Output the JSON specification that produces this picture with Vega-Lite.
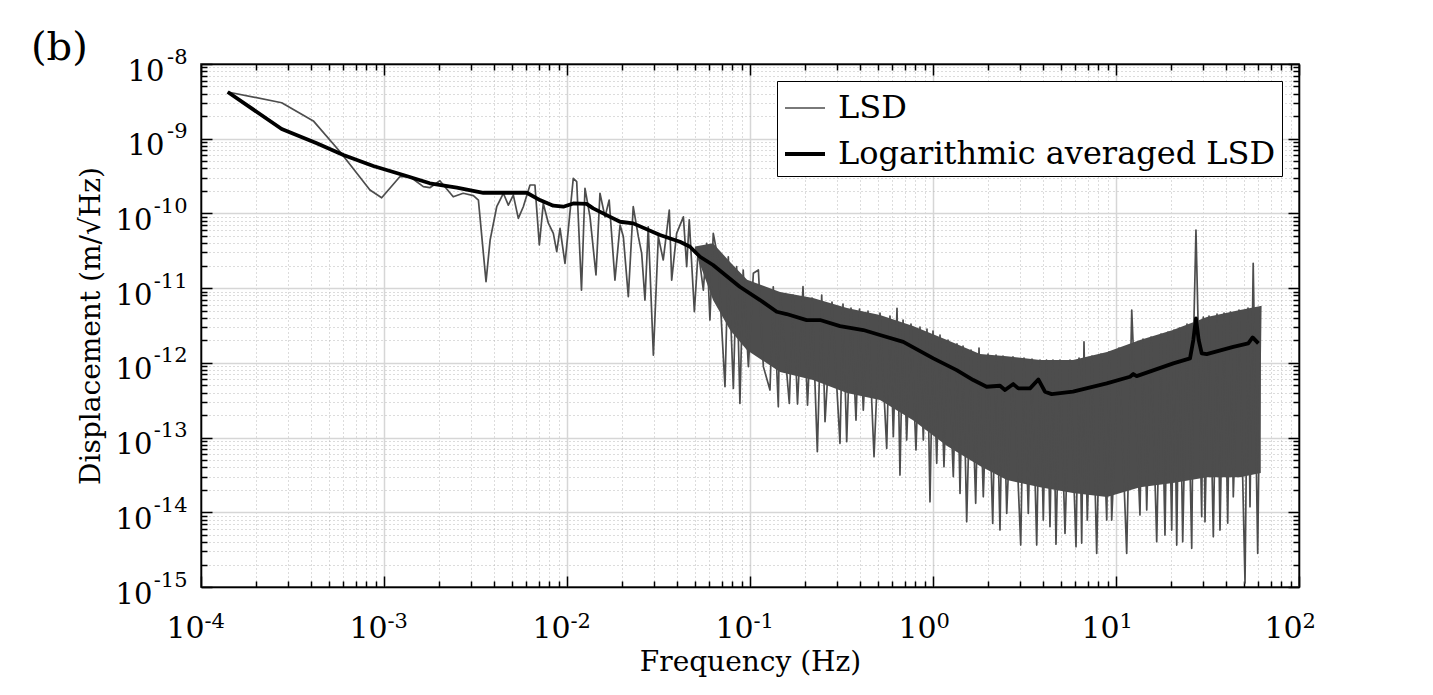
{
  "$schema": "https://vega.github.io/schema/vega-lite/v6.json",
  "width": 1098,
  "height": 523,
  "autosize": {"type": "none"},
  "padding": {"left": 201, "top": 64, "right": 134, "bottom": 108},
  "background": "white",
  "config": {"view": {"stroke": "black", "strokeWidth": 1.5}, "font": "DejaVu Serif"},
  "title": {"text": "(b)", "anchor": "start", "frame": "group", "fontSize": 40, "fontWeight": "normal", "font": "DejaVu Serif", "color": "black", "dx": -170, "offset": 0, "baseline": "top", "dy": 22},
  "datasets": {
    "band": [
      {"f": 0.05, "hi": 3.6e-11, "lo": 3.2e-11},
      {"f": 0.0628, "hi": 4.0e-11, "lo": 6.93e-12},
      {"f": 0.0778, "hi": 2.23e-11, "lo": 2.75e-12},
      {"f": 0.0964, "hi": 1.3e-11, "lo": 1.48e-12},
      {"f": 0.146, "hi": 8.87e-12, "lo": 7.53e-13},
      {"f": 0.221, "hi": 7.37e-12, "lo": 5.89e-13},
      {"f": 0.339, "hi": 5.42e-12, "lo": 3.94e-13},
      {"f": 0.513, "hi": 4.37e-12, "lo": 3.18e-13},
      {"f": 0.778, "hi": 3.11e-12, "lo": 1.71e-13},
      {"f": 1.194, "hi": 2.02e-12, "lo": 7.69e-14},
      {"f": 1.807, "hi": 1.31e-12, "lo": 4.15e-14},
      {"f": 2.535, "hi": 1.23e-12, "lo": 2.7e-14},
      {"f": 3.846, "hi": 1.09e-12, "lo": 2.17e-14},
      {"f": 5.82, "hi": 1.09e-12, "lo": 1.81e-14},
      {"f": 8.93, "hi": 1.4e-12, "lo": 1.6e-14},
      {"f": 13.52, "hi": 2.02e-12, "lo": 2.17e-14},
      {"f": 20.47, "hi": 2.75e-12, "lo": 2.46e-14},
      {"f": 31.4, "hi": 4.1e-12, "lo": 2.95e-14},
      {"f": 47.6, "hi": 5.09e-12, "lo": 2.95e-14},
      {"f": 61.8, "hi": 5.75e-12, "lo": 3.35e-14}
    ],
    "lines": [
      {"s": "LSD", "f": 1.40e-4, "v": 4.22e-9},
      {"s": "LSD", "f": 2.76e-4, "v": 3.03e-9},
      {"s": "LSD", "f": 4.11e-4, "v": 1.73e-9},
      {"s": "LSD", "f": 5.75e-4, "v": 6.7e-10},
      {"s": "LSD", "f": 8.38e-4, "v": 2.06e-10},
      {"s": "LSD", "f": 9.71e-4, "v": 1.62e-10},
      {"s": "LSD", "f": 1.22e-3, "v": 3.10e-10},
      {"s": "LSD", "f": 1.387e-3, "v": 3.10e-10},
      {"s": "LSD", "f": 1.64e-3, "v": 2.28e-10},
      {"s": "LSD", "f": 1.78e-3, "v": 2.21e-10},
      {"s": "LSD", "f": 2.02e-3, "v": 2.74e-10},
      {"s": "LSD", "f": 2.15e-3, "v": 2.28e-10},
      {"s": "LSD", "f": 2.39e-3, "v": 1.67e-10},
      {"s": "LSD", "f": 2.71e-3, "v": 1.86e-10},
      {"s": "LSD", "f": 3.08e-3, "v": 1.73e-10},
      {"s": "LSD", "f": 3.28e-3, "v": 1.51e-10},
      {"s": "LSD", "f": 3.61e-3, "v": 1.22e-11},
      {"s": "LSD", "f": 3.80e-3, "v": 4.4e-11},
      {"s": "LSD", "f": 4.13e-3, "v": 1.23e-10},
      {"s": "LSD", "f": 4.49e-3, "v": 1.86e-10},
      {"s": "LSD", "f": 4.78e-3, "v": 1.29e-10},
      {"s": "LSD", "f": 5.09e-3, "v": 1.76e-10},
      {"s": "LSD", "f": 5.42e-3, "v": 8.6e-11},
      {"s": "LSD", "f": 5.77e-3, "v": 1.23e-10},
      {"s": "LSD", "f": 6.28e-3, "v": 2.40e-10},
      {"s": "LSD", "f": 6.68e-3, "v": 2.40e-10},
      {"s": "LSD", "f": 7.06e-3, "v": 3.78e-11},
      {"s": "LSD", "f": 7.42e-3, "v": 1.36e-10},
      {"s": "LSD", "f": 7.91e-3, "v": 7.4e-11},
      {"s": "LSD", "f": 8.42e-3, "v": 5.42e-11},
      {"s": "LSD", "f": 8.79e-3, "v": 3.08e-11},
      {"s": "LSD", "f": 9.16e-3, "v": 6.3e-11},
      {"s": "LSD", "f": 9.75e-3, "v": 2.15e-11},
      {"s": "LSD", "f": 1.016e-2, "v": 6.0e-11},
      {"s": "LSD", "f": 1.082e-2, "v": 2.94e-10},
      {"s": "LSD", "f": 1.13e-2, "v": 2.66e-10},
      {"s": "LSD", "f": 1.20e-2, "v": 9.4e-12},
      {"s": "LSD", "f": 1.254e-2, "v": 2.17e-10},
      {"s": "LSD", "f": 1.336e-2, "v": 9.0e-11},
      {"s": "LSD", "f": 1.44e-2, "v": 1.50e-11},
      {"s": "LSD", "f": 1.514e-2, "v": 1.86e-10},
      {"s": "LSD", "f": 1.613e-2, "v": 9.0e-11},
      {"s": "LSD", "f": 1.70e-2, "v": 1.51e-10},
      {"s": "LSD", "f": 0.01828, "v": 1.28e-11},
      {"s": "LSD", "f": 0.0195, "v": 7.0e-11},
      {"s": "LSD", "f": 0.02032, "v": 4.88e-11},
      {"s": "LSD", "f": 0.02163, "v": 7.7e-12},
      {"s": "LSD", "f": 0.02301, "v": 1.23e-10},
      {"s": "LSD", "f": 0.02455, "v": 4.88e-11},
      {"s": "LSD", "f": 0.02559, "v": 2.92e-11},
      {"s": "LSD", "f": 0.02667, "v": 6.9e-12},
      {"s": "LSD", "f": 0.0278, "v": 6.6e-11},
      {"s": "LSD", "f": 0.02965, "v": 1.27e-12},
      {"s": "LSD", "f": 0.03155, "v": 4.88e-11},
      {"s": "LSD", "f": 0.03357, "v": 2.38e-11},
      {"s": "LSD", "f": 0.03622, "v": 1.11e-10},
      {"s": "LSD", "f": 0.03733, "v": 1.28e-11},
      {"s": "LSD", "f": 0.03973, "v": 5.42e-11},
      {"s": "LSD", "f": 0.04325, "v": 9.0e-11},
      {"s": "LSD", "f": 0.04508, "v": 1.94e-11},
      {"s": "LSD", "f": 0.04656, "v": 8.2e-11},
      {"s": "LSD", "f": 0.04966, "v": 4.83e-12},
      {"s": "LSD", "f": 0.05212, "v": 3.24e-11},
      {"s": "LSD", "f": 0.05559, "v": 9.4e-12},
      {"s": "LSD", "f": 0.05798, "v": 3.98e-11},
      {"s": "LSD", "f": 0.0604, "v": 3.74e-12},
      {"s": "LSD", "f": 0.0630, "v": 5.42e-11},
      {"s": "LSD", "f": 0.0671, "v": 2.38e-11},
      {"s": "LSD", "f": 0.0700, "v": 3.04e-12},
      {"s": "LSD", "f": 0.0730, "v": 4.79e-13},
      {"s": "LSD", "f": 0.0761, "v": 2.63e-11},
      {"s": "LSD", "f": 0.0811, "v": 4.55e-13},
      {"s": "LSD", "f": 0.0845, "v": 1.94e-11},
      {"s": "LSD", "f": 0.0881, "v": 2.87e-13},
      {"s": "LSD", "f": 0.0918, "v": 1.75e-11},
      {"s": "LSD", "f": 0.098, "v": 8.9e-13},
      {"s": "LSD", "f": 0.1043, "v": 1.58e-11},
      {"s": "LSD", "f": 0.1111, "v": 1.75e-11},
      {"s": "LSD", "f": 0.1183, "v": 8.9e-13},
      {"s": "LSD", "f": 0.1286, "v": 4.33e-13},
      {"s": "LSD", "f": 0.134, "v": 1.04e-11},
      {"s": "LSD", "f": 0.1428, "v": 2.58e-13},
      {"s": "LSD", "f": 0.146, "v": 8.5e-12},
      {"s": "LSD", "f": 0.164, "v": 2.87e-13},
      {"s": "LSD", "f": 0.1718, "v": 8.09e-12},
      {"s": "LSD", "f": 0.1818, "v": 2.81e-13},
      {"s": "LSD", "f": 0.1948, "v": 1.045e-11},
      {"s": "LSD", "f": 0.2062, "v": 2.72e-13},
      {"s": "LSD", "f": 0.2183, "v": 7.36e-12},
      {"s": "LSD", "f": 0.2333, "v": 6.46e-14},
      {"s": "LSD", "f": 0.2465, "v": 8.09e-12},
      {"s": "LSD", "f": 0.257, "v": 1.63e-13},
      {"s": "LSD", "f": 0.2806, "v": 6.52e-12},
      {"s": "LSD", "f": 0.3103, "v": 8.36e-14},
      {"s": "LSD", "f": 0.3222, "v": 6.12e-12},
      {"s": "LSD", "f": 0.3376, "v": 8.79e-14},
      {"s": "LSD", "f": 0.3564, "v": 5.42e-12},
      {"s": "LSD", "f": 0.3795, "v": 1.71e-13},
      {"s": "LSD", "f": 0.3966, "v": 5.25e-12},
      {"s": "LSD", "f": 0.416, "v": 2.33e-13},
      {"s": "LSD", "f": 0.4414, "v": 4.93e-12},
      {"s": "LSD", "f": 0.4761, "v": 5.53e-14},
      {"s": "LSD", "f": 0.5133, "v": 4.65e-12},
      {"s": "LSD", "f": 0.5585, "v": 7.16e-14},
      {"s": "LSD", "f": 0.582, "v": 4.24e-12},
      {"s": "LSD", "f": 0.607, "v": 1.03e-13},
      {"s": "LSD", "f": 0.6358, "v": 5.37e-12},
      {"s": "LSD", "f": 0.660, "v": 3.15e-14},
      {"s": "LSD", "f": 0.686, "v": 3.74e-12},
      {"s": "LSD", "f": 0.718, "v": 9.27e-14},
      {"s": "LSD", "f": 0.758, "v": 3.30e-12},
      {"s": "LSD", "f": 0.807, "v": 6.81e-14},
      {"s": "LSD", "f": 0.849, "v": 3.01e-12},
      {"s": "LSD", "f": 0.885, "v": 9.27e-14},
      {"s": "LSD", "f": 0.927, "v": 2.83e-12},
      {"s": "LSD", "f": 0.963, "v": 1.38e-14},
      {"s": "LSD", "f": 1.0, "v": 2.67e-12},
      {"s": "LSD", "f": 1.048, "v": 4.52e-14},
      {"s": "LSD", "f": 1.092, "v": 2.36e-12},
      {"s": "LSD", "f": 1.148, "v": 4.06e-14},
      {"s": "LSD", "f": 1.208, "v": 2.02e-12},
      {"s": "LSD", "f": 1.291, "v": 2.99e-14},
      {"s": "LSD", "f": 1.352, "v": 1.79e-12},
      {"s": "LSD", "f": 1.405, "v": 1.79e-14},
      {"s": "LSD", "f": 1.459, "v": 1.68e-12},
      {"s": "LSD", "f": 1.528, "v": 7.46e-15},
      {"s": "LSD", "f": 1.613, "v": 1.48e-12},
      {"s": "LSD", "f": 1.711, "v": 1.32e-14},
      {"s": "LSD", "f": 1.784, "v": 1.58e-12},
      {"s": "LSD", "f": 1.883, "v": 1.61e-14},
      {"s": "LSD", "f": 1.998, "v": 1.31e-12},
      {"s": "LSD", "f": 2.12, "v": 7.1e-15},
      {"s": "LSD", "f": 2.21, "v": 1.27e-12},
      {"s": "LSD", "f": 2.323, "v": 5.78e-15},
      {"s": "LSD", "f": 2.413, "v": 1.23e-12},
      {"s": "LSD", "f": 2.528, "v": 9.66e-15},
      {"s": "LSD", "f": 2.736, "v": 1.2e-12},
      {"s": "LSD", "f": 3.015, "v": 3.64e-15},
      {"s": "LSD", "f": 3.143, "v": 1.16e-12},
      {"s": "LSD", "f": 3.317, "v": 9.66e-15},
      {"s": "LSD", "f": 3.475, "v": 1.12e-12},
      {"s": "LSD", "f": 3.687, "v": 3.64e-15},
      {"s": "LSD", "f": 3.844, "v": 1.09e-12},
      {"s": "LSD", "f": 4.006, "v": 7.87e-15},
      {"s": "LSD", "f": 4.171, "v": 1.09e-12},
      {"s": "LSD", "f": 4.358, "v": 6.4e-15},
      {"s": "LSD", "f": 4.525, "v": 1.09e-12},
      {"s": "LSD", "f": 4.7, "v": 3.75e-15},
      {"s": "LSD", "f": 4.943, "v": 1.09e-12},
      {"s": "LSD", "f": 5.264, "v": 5.22e-15},
      {"s": "LSD", "f": 5.606, "v": 1.09e-12},
      {"s": "LSD", "f": 6.045, "v": 3.45e-15},
      {"s": "LSD", "f": 6.28, "v": 1.16e-12},
      {"s": "LSD", "f": 6.495, "v": 3.87e-15},
      {"s": "LSD", "f": 6.685, "v": 1.91e-12},
      {"s": "LSD", "f": 6.969, "v": 7.87e-15},
      {"s": "LSD", "f": 7.393, "v": 1.23e-12},
      {"s": "LSD", "f": 7.843, "v": 2.82e-15},
      {"s": "LSD", "f": 8.28, "v": 1.31e-12},
      {"s": "LSD", "f": 8.9, "v": 7.87e-15},
      {"s": "LSD", "f": 9.16, "v": 1.4e-12},
      {"s": "LSD", "f": 9.475, "v": 7.87e-15},
      {"s": "LSD", "f": 10.38, "v": 1.58e-12},
      {"s": "LSD", "f": 11.44, "v": 2.82e-15},
      {"s": "LSD", "f": 12.19, "v": 5.09e-12},
      {"s": "LSD", "f": 13.52, "v": 9.18e-15},
      {"s": "LSD", "f": 14.05, "v": 2.08e-12},
      {"s": "LSD", "f": 14.72, "v": 1.07e-14},
      {"s": "LSD", "f": 15.54, "v": 2.21e-12},
      {"s": "LSD", "f": 16.69, "v": 4.03e-15},
      {"s": "LSD", "f": 17.62, "v": 2.43e-12},
      {"s": "LSD", "f": 18.52, "v": 4.95e-15},
      {"s": "LSD", "f": 19.24, "v": 2.58e-12},
      {"s": "LSD", "f": 20.16, "v": 5.78e-15},
      {"s": "LSD", "f": 20.75, "v": 2.75e-12},
      {"s": "LSD", "f": 21.47, "v": 3.64e-15},
      {"s": "LSD", "f": 22.23, "v": 2.92e-12},
      {"s": "LSD", "f": 23.15, "v": 4.03e-15},
      {"s": "LSD", "f": 24.43, "v": 3.3e-12},
      {"s": "LSD", "f": 25.93, "v": 3.29e-15},
      {"s": "LSD", "f": 26.69, "v": 3.98e-12},
      {"s": "LSD", "f": 27.35, "v": 6.0e-11},
      {"s": "LSD", "f": 28.05, "v": 3.98e-12},
      {"s": "LSD", "f": 29.4, "v": 8.71e-15},
      {"s": "LSD", "f": 30.0, "v": 4.1e-12},
      {"s": "LSD", "f": 30.64, "v": 7.46e-15},
      {"s": "LSD", "f": 32.23, "v": 4.24e-12},
      {"s": "LSD", "f": 34.02, "v": 4.7e-15},
      {"s": "LSD", "f": 35.64, "v": 4.5e-12},
      {"s": "LSD", "f": 37.01, "v": 5.78e-15},
      {"s": "LSD", "f": 38.93, "v": 4.65e-12},
      {"s": "LSD", "f": 40.78, "v": 7.16e-15},
      {"s": "LSD", "f": 42.25, "v": 4.79e-12},
      {"s": "LSD", "f": 43.75, "v": 1.61e-14},
      {"s": "LSD", "f": 47.0, "v": 5.09e-12},
      {"s": "LSD", "f": 50.7, "v": 1.13e-15},
      {"s": "LSD", "f": 52.64, "v": 5.42e-12},
      {"s": "LSD", "f": 53.98, "v": 1.19e-14},
      {"s": "LSD", "f": 56.2, "v": 2.15e-11},
      {"s": "LSD", "f": 59.47, "v": 2.82e-15},
      {"s": "LSD", "f": 61.8, "v": 5.75e-12},
      {"s": "Logarithmic averaged LSD", "f": 1.40e-4, "v": 4.22e-9},
      {"s": "Logarithmic averaged LSD", "f": 2.76e-4, "v": 1.35e-9},
      {"s": "Logarithmic averaged LSD", "f": 4.29e-4, "v": 8.67e-10},
      {"s": "Logarithmic averaged LSD", "f": 6.0e-4, "v": 6.05e-10},
      {"s": "Logarithmic averaged LSD", "f": 8.74e-4, "v": 4.32e-10},
      {"s": "Logarithmic averaged LSD", "f": 1.274e-3, "v": 3.27e-10},
      {"s": "Logarithmic averaged LSD", "f": 1.78e-3, "v": 2.53e-10},
      {"s": "Logarithmic averaged LSD", "f": 2.5e-3, "v": 2.21e-10},
      {"s": "Logarithmic averaged LSD", "f": 3.49e-3, "v": 1.89e-10},
      {"s": "Logarithmic averaged LSD", "f": 6.03e-3, "v": 1.89e-10},
      {"s": "Logarithmic averaged LSD", "f": 7.11e-3, "v": 1.51e-10},
      {"s": "Logarithmic averaged LSD", "f": 8.42e-3, "v": 1.27e-10},
      {"s": "Logarithmic averaged LSD", "f": 9.55e-3, "v": 1.23e-10},
      {"s": "Logarithmic averaged LSD", "f": 1.082e-2, "v": 1.36e-10},
      {"s": "Logarithmic averaged LSD", "f": 1.28e-2, "v": 1.34e-10},
      {"s": "Logarithmic averaged LSD", "f": 1.39e-2, "v": 1.17e-10},
      {"s": "Logarithmic averaged LSD", "f": 1.72e-2, "v": 9.0e-11},
      {"s": "Logarithmic averaged LSD", "f": 1.95e-2, "v": 7.74e-11},
      {"s": "Logarithmic averaged LSD", "f": 2.30e-2, "v": 7.36e-11},
      {"s": "Logarithmic averaged LSD", "f": 3.22e-2, "v": 5.14e-11},
      {"s": "Logarithmic averaged LSD", "f": 4.14e-2, "v": 4.18e-11},
      {"s": "Logarithmic averaged LSD", "f": 4.70e-2, "v": 3.58e-11},
      {"s": "Logarithmic averaged LSD", "f": 5.33e-2, "v": 2.63e-11},
      {"s": "Logarithmic averaged LSD", "f": 6.28e-2, "v": 2.04e-11},
      {"s": "Logarithmic averaged LSD", "f": 8.79e-2, "v": 1.045e-11},
      {"s": "Logarithmic averaged LSD", "f": 0.1135, "v": 6.93e-12},
      {"s": "Logarithmic averaged LSD", "f": 0.14, "v": 4.83e-12},
      {"s": "Logarithmic averaged LSD", "f": 0.1585, "v": 4.5e-12},
      {"s": "Logarithmic averaged LSD", "f": 0.204, "v": 3.74e-12},
      {"s": "Logarithmic averaged LSD", "f": 0.2415, "v": 3.74e-12},
      {"s": "Logarithmic averaged LSD", "f": 0.3104, "v": 3.1e-12},
      {"s": "Logarithmic averaged LSD", "f": 0.416, "v": 2.75e-12},
      {"s": "Logarithmic averaged LSD", "f": 0.513, "v": 2.36e-12},
      {"s": "Logarithmic averaged LSD", "f": 0.688, "v": 1.91e-12},
      {"s": "Logarithmic averaged LSD", "f": 0.78, "v": 1.61e-12},
      {"s": "Logarithmic averaged LSD", "f": 1.004, "v": 1.15e-12},
      {"s": "Logarithmic averaged LSD", "f": 1.347, "v": 8.0e-13},
      {"s": "Logarithmic averaged LSD", "f": 1.66, "v": 5.89e-13},
      {"s": "Logarithmic averaged LSD", "f": 1.963, "v": 4.79e-13},
      {"s": "Logarithmic averaged LSD", "f": 2.323, "v": 4.94e-13},
      {"s": "Logarithmic averaged LSD", "f": 2.474, "v": 4.33e-13},
      {"s": "Logarithmic averaged LSD", "f": 2.747, "v": 5.2e-13},
      {"s": "Logarithmic averaged LSD", "f": 2.925, "v": 4.55e-13},
      {"s": "Logarithmic averaged LSD", "f": 3.39, "v": 4.55e-13},
      {"s": "Logarithmic averaged LSD", "f": 3.763, "v": 6.0e-13},
      {"s": "Logarithmic averaged LSD", "f": 4.09, "v": 4.11e-13},
      {"s": "Logarithmic averaged LSD", "f": 4.454, "v": 3.82e-13},
      {"s": "Logarithmic averaged LSD", "f": 5.82, "v": 4.11e-13},
      {"s": "Logarithmic averaged LSD", "f": 8.9, "v": 5.31e-13},
      {"s": "Logarithmic averaged LSD", "f": 11.93, "v": 6.52e-13},
      {"s": "Logarithmic averaged LSD", "f": 12.43, "v": 7.08e-13},
      {"s": "Logarithmic averaged LSD", "f": 12.97, "v": 6.65e-13},
      {"s": "Logarithmic averaged LSD", "f": 20.56, "v": 9.84e-13},
      {"s": "Logarithmic averaged LSD", "f": 25.38, "v": 1.15e-12},
      {"s": "Logarithmic averaged LSD", "f": 26.45, "v": 2.02e-12},
      {"s": "Logarithmic averaged LSD", "f": 27.35, "v": 3.94e-12},
      {"s": "Logarithmic averaged LSD", "f": 28.3, "v": 2.02e-12},
      {"s": "Logarithmic averaged LSD", "f": 29.4, "v": 1.34e-12},
      {"s": "Logarithmic averaged LSD", "f": 31.3, "v": 1.31e-12},
      {"s": "Logarithmic averaged LSD", "f": 43.75, "v": 1.64e-12},
      {"s": "Logarithmic averaged LSD", "f": 52.8, "v": 1.82e-12},
      {"s": "Logarithmic averaged LSD", "f": 55.8, "v": 2.19e-12},
      {"s": "Logarithmic averaged LSD", "f": 60.0, "v": 1.82e-12}
    ]
  },
  "layer": [
    {
      "data": {"name": "band"},
      "mark": {"type": "area", "color": "#4d4d4d", "opacity": 1},
      "encoding": {
        "x": {"field": "f", "type": "quantitative",
          "scale": {"type": "log", "domain": [0.0001, 100], "nice": false},
          "axis": {"orient": "bottom",
            "values": [0.0001,0.0002,0.0003,0.0004,0.0005,0.0006,0.0007,0.0008,0.0009,0.001,0.002,0.003,0.004,0.005,0.006,0.007,0.008,0.009,0.01,0.02,0.03,0.04,0.05,0.06,0.07,0.08,0.09,0.1,0.2,0.3,0.4,0.5,0.6,0.7,0.8,0.9,1,2,3,4,5,6,7,8,9,10,20,30,40,50,60,70,80,90,100],
            "title": "Frequency (Hz)", "titleFont": "DejaVu Serif", "titleFontSize": 28, "titleFontWeight": "normal", "titleColor": "black", "titlePadding": 5,
            "ticks": false, "domain": false, "grid": true,
            "gridColor": {"condition": {"test": "abs(log(datum.value)/LN10 - round(log(datum.value)/LN10)) < 0.001", "value": "#d6d6d6"}, "value": "#b8b8b8"},
            "gridDash": {"condition": {"test": "abs(log(datum.value)/LN10 - round(log(datum.value)/LN10)) < 0.001", "value": []}, "value": [1, 3]},
            "gridWidth": {"condition": {"test": "abs(log(datum.value)/LN10 - round(log(datum.value)/LN10)) < 0.001", "value": 1.5}, "value": 1},
            "labelExpr": "abs(log(datum.value)/LN10 - round(log(datum.value)/LN10)) < 0.001 ? '10' : ''",
            "labelFont": "DejaVu Serif", "labelFontSize": 30, "labelColor": "black", "labelPadding": 26, "labelOffset": -16,
            "labelFlush": false, "labelOverlap": false, "labelBound": false}},
        "y": {"field": "hi", "type": "quantitative",
          "scale": {"type": "log", "domain": [1e-15, 1e-8], "nice": false},
          "axis": {"orient": "left",
            "values": [1e-15,2e-15,3e-15,4e-15,5e-15,6e-15,7e-15,8e-15,9e-15,1e-14,2e-14,3e-14,4e-14,5e-14,6e-14,7e-14,8e-14,9e-14,1e-13,2e-13,3e-13,4e-13,5e-13,6e-13,7e-13,8e-13,9e-13,1e-12,2e-12,3e-12,4e-12,5e-12,6e-12,7e-12,8e-12,9e-12,1e-11,2e-11,3e-11,4e-11,5e-11,6e-11,7e-11,8e-11,9e-11,1e-10,2e-10,3e-10,4e-10,5e-10,6e-10,7e-10,8e-10,9e-10,1e-9,2e-9,3e-9,4e-9,5e-9,6e-9,7e-9,8e-9,9e-9,1e-8],
            "title": "Displacement (m/√Hz)", "titleFont": "DejaVu Serif", "titleFontSize": 28, "titleFontWeight": "normal", "titleColor": "black", "titlePadding": 10,
            "ticks": false, "domain": false, "grid": true,
            "gridColor": {"condition": {"test": "abs(log(datum.value)/LN10 - round(log(datum.value)/LN10)) < 0.001", "value": "#d6d6d6"}, "value": "#b8b8b8"},
            "gridDash": {"condition": {"test": "abs(log(datum.value)/LN10 - round(log(datum.value)/LN10)) < 0.001", "value": []}, "value": [1, 3]},
            "gridWidth": {"condition": {"test": "abs(log(datum.value)/LN10 - round(log(datum.value)/LN10)) < 0.001", "value": 1.5}, "value": 1},
            "labelExpr": "abs(log(datum.value)/LN10 - round(log(datum.value)/LN10)) < 0.001 ? '10' : ''",
            "labelFont": "DejaVu Serif", "labelFontSize": 29, "labelColor": "black",
            "labelPadding": {"condition": {"test": "datum.value > 5e-10", "value": 37}, "value": 49},
            "labelOffset": 7, "labelFlush": false, "labelOverlap": false, "labelBound": false}},
        "y2": {"field": "lo"}
      }
    },
    {
      "data": {"name": "lines"},
      "mark": {"type": "line", "strokeJoin": "round"},
      "encoding": {
        "x": {"field": "f", "type": "quantitative",
          "scale": {"type": "log", "domain": [0.0001, 100], "nice": false},
          "axis": {"orient": "top",
            "values": [0.0001,0.0002,0.0003,0.0004,0.0005,0.0006,0.0007,0.0008,0.0009,0.001,0.002,0.003,0.004,0.005,0.006,0.007,0.008,0.009,0.01,0.02,0.03,0.04,0.05,0.06,0.07,0.08,0.09,0.1,0.2,0.3,0.4,0.5,0.6,0.7,0.8,0.9,1,2,3,4,5,6,7,8,9,10,20,30,40,50,60,70,80,90,100],
            "title": null, "labels": false, "grid": false, "domain": true, "domainColor": "black", "domainWidth": 1.5,
            "ticks": true, "tickColor": "black", "tickWidth": 1.5,
            "tickSize": {"condition": {"test": "abs(log(datum.value)/LN10 - round(log(datum.value)/LN10)) < 0.001", "value": -11}, "value": -6}}},
        "y": {"field": "v", "type": "quantitative",
          "scale": {"type": "log", "domain": [1e-15, 1e-8], "nice": false},
          "axis": {"orient": "right",
            "values": [1e-15,2e-15,3e-15,4e-15,5e-15,6e-15,7e-15,8e-15,9e-15,1e-14,2e-14,3e-14,4e-14,5e-14,6e-14,7e-14,8e-14,9e-14,1e-13,2e-13,3e-13,4e-13,5e-13,6e-13,7e-13,8e-13,9e-13,1e-12,2e-12,3e-12,4e-12,5e-12,6e-12,7e-12,8e-12,9e-12,1e-11,2e-11,3e-11,4e-11,5e-11,6e-11,7e-11,8e-11,9e-11,1e-10,2e-10,3e-10,4e-10,5e-10,6e-10,7e-10,8e-10,9e-10,1e-9,2e-9,3e-9,4e-9,5e-9,6e-9,7e-9,8e-9,9e-9,1e-8],
            "title": null, "labels": false, "grid": false, "domain": true, "domainColor": "black", "domainWidth": 1.5,
            "ticks": true, "tickColor": "black", "tickWidth": 1.5,
            "tickSize": {"condition": {"test": "abs(log(datum.value)/LN10 - round(log(datum.value)/LN10)) < 0.001", "value": -11}, "value": -6}}},
        "color": {"field": "s", "type": "nominal",
          "scale": {"domain": ["LSD", "Logarithmic averaged LSD"], "range": ["#4d4d4d", "#000000"]},
          "legend": {"title": null, "orient": "top-right", "offset": 17, "strokeColor": "black", "fillColor": "white", "padding": 6,
            "labelFont": "DejaVu Serif", "labelFontSize": 32, "labelColor": "black", "labelLimit": 0, "labelOffset": 11,
            "symbolType": "stroke", "symbolSize": 1600, "rowPadding": 8}},
        "strokeWidth": {"field": "s", "type": "nominal",
          "scale": {"domain": ["LSD", "Logarithmic averaged LSD"], "range": [1.7, 3.8]},
          "legend": {"title": null, "orient": "top-right", "offset": 17, "strokeColor": "black", "fillColor": "white", "padding": 6,
            "labelFont": "DejaVu Serif", "labelFontSize": 32, "labelColor": "black", "labelLimit": 0, "labelOffset": 11,
            "symbolType": "stroke", "symbolSize": 1600, "rowPadding": 8}}
      }
    },
    {
      "data": {"name": "band"},
      "mark": {"type": "point", "opacity": 0},
      "encoding": {
        "x": {"field": "f", "type": "quantitative",
          "scale": {"type": "log", "domain": [0.0001, 100], "nice": false},
          "axis": {"orient": "bottom",
            "values": [0.0001,0.001,0.01,0.1,1,10,100],
            "title": null, "ticks": false, "domain": false, "grid": false,
            "labelExpr": "toString(round(log(datum.value)/LN10))",
            "labelFont": "DejaVu Serif", "labelFontSize": 21, "labelColor": "black", "labelPadding": 23, "labelOffset": 3, "labelAlign": "left",
            "labelFlush": false, "labelOverlap": false, "labelBound": false}},
        "y": {"field": "hi", "type": "quantitative",
          "scale": {"type": "log", "domain": [1e-15, 1e-8], "nice": false},
          "axis": {"orient": "left",
            "values": [1e-15,1e-14,1e-13,1e-12,1e-11,1e-10,1e-9,1e-8],
            "title": null, "ticks": false, "domain": false, "grid": false,
            "labelExpr": "toString(round(log(datum.value)/LN10))",
            "labelFont": "DejaVu Serif", "labelFontSize": 21, "labelColor": "black", "labelPadding": 14, "labelOffset": -7, "labelAlign": "right",
            "labelFlush": false, "labelOverlap": false, "labelBound": false}}
      }
    },
    {
      "data": {"name": "band"},
      "mark": {"type": "point", "opacity": 0},
      "encoding": {
        "x": {"field": "f", "type": "quantitative",
          "scale": {"type": "log", "domain": [0.0001, 100], "nice": false},
          "axis": {"orient": "bottom",
            "values": [0.0001,0.0002,0.0003,0.0004,0.0005,0.0006,0.0007,0.0008,0.0009,0.001,0.002,0.003,0.004,0.005,0.006,0.007,0.008,0.009,0.01,0.02,0.03,0.04,0.05,0.06,0.07,0.08,0.09,0.1,0.2,0.3,0.4,0.5,0.6,0.7,0.8,0.9,1,2,3,4,5,6,7,8,9,10,20,30,40,50,60,70,80,90,100],
            "title": null, "labels": false, "grid": false, "domain": true, "domainColor": "black", "domainWidth": 1.5,
            "ticks": true, "tickColor": "black", "tickWidth": 1.5,
            "tickSize": {"condition": {"test": "abs(log(datum.value)/LN10 - round(log(datum.value)/LN10)) < 0.001", "value": -11}, "value": -6}}},
        "y": {"field": "hi", "type": "quantitative",
          "scale": {"type": "log", "domain": [1e-15, 1e-8], "nice": false},
          "axis": {"orient": "left",
            "values": [1e-15,2e-15,3e-15,4e-15,5e-15,6e-15,7e-15,8e-15,9e-15,1e-14,2e-14,3e-14,4e-14,5e-14,6e-14,7e-14,8e-14,9e-14,1e-13,2e-13,3e-13,4e-13,5e-13,6e-13,7e-13,8e-13,9e-13,1e-12,2e-12,3e-12,4e-12,5e-12,6e-12,7e-12,8e-12,9e-12,1e-11,2e-11,3e-11,4e-11,5e-11,6e-11,7e-11,8e-11,9e-11,1e-10,2e-10,3e-10,4e-10,5e-10,6e-10,7e-10,8e-10,9e-10,1e-9,2e-9,3e-9,4e-9,5e-9,6e-9,7e-9,8e-9,9e-9,1e-8],
            "title": null, "labels": false, "grid": false, "domain": true, "domainColor": "black", "domainWidth": 1.5,
            "ticks": true, "tickColor": "black", "tickWidth": 1.5,
            "tickSize": {"condition": {"test": "abs(log(datum.value)/LN10 - round(log(datum.value)/LN10)) < 0.001", "value": -11}, "value": -6}}}
      }
    }
  ],
  "resolve": {"axis": {"x": "independent", "y": "independent"}}
}
